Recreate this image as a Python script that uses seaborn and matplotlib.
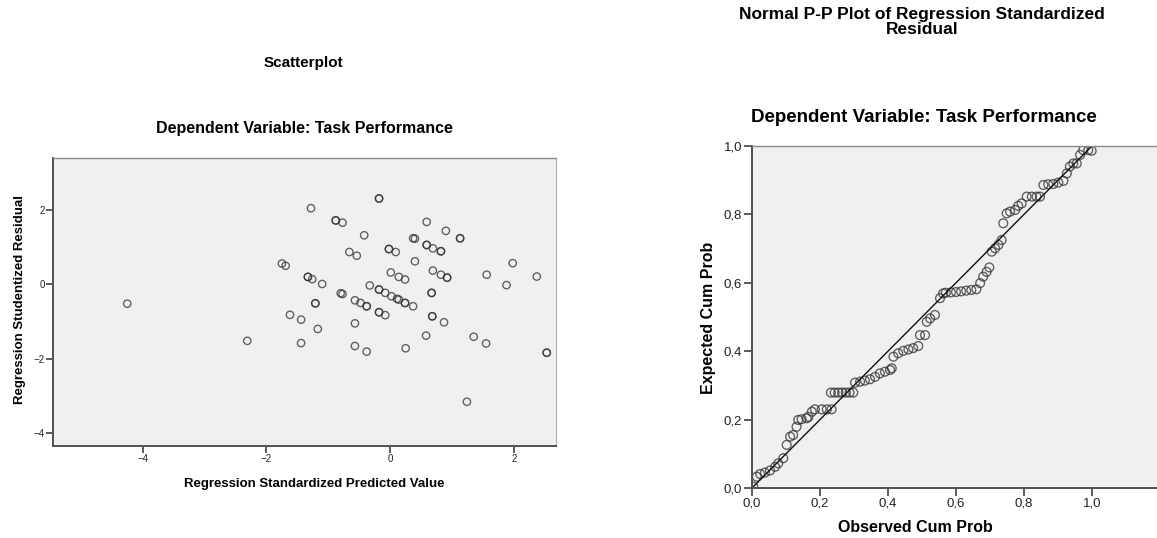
import matplotlib
matplotlib.use('Agg')
import matplotlib.pyplot as plt
from matplotlib.ticker import FuncFormatter
import seaborn as sns
import pandas as pd

# Residuals scatter
pred_value = [-1.28, -0.18, -0.18, -0.88, -0.88, -0.77, -0.42, 0.59, 0.37, 0.40,
              0.59, 0.59, -0.66, -0.54, -0.02, -0.02, 0.09, 0.40, -1.75, -1.69,
              -1.33, -1.33, -1.26, -1.10, 0.01, 0.14, 0.24, -0.33, -0.18, -0.18,
              -0.08, 0.02, 0.11, 0.14, 0.24, 0.24, 0.37, -0.80, -0.77, -0.57,
              -0.48, -0.38, -0.38, -0.18, -0.18, -0.08, -1.21, -1.21, -1.62, -1.44,
              -1.17, -0.57, -1.44, -0.57, -0.38, 0.25, 0.58, 0.90, 1.13, 1.13,
              0.69, 0.82, 0.82, 1.98, 0.69, 0.82, 0.92, 0.92, 1.56, 2.37,
              1.88, 0.67, 0.67, 0.68, 0.68, 0.87, 1.35, 1.55, 2.53, 2.53,
              1.24, -4.25, -2.31]
stud_resid = [2.05, 2.31, 2.31, 1.72, 1.72, 1.66, 1.32, 1.68, 1.24, 1.23,
              1.06, 1.06, 0.87, 0.77, 0.95, 0.95, 0.87, 0.62, 0.56, 0.50,
              0.20, 0.20, 0.14, 0.01, 0.32, 0.20, 0.13, -0.03, -0.14, -0.14,
              -0.23, -0.32, -0.39, -0.41, -0.50, -0.50, -0.59, -0.24, -0.26, -0.43,
              -0.50, -0.59, -0.59, -0.75, -0.75, -0.83, -0.51, -0.51, -0.82, -0.95,
              -1.20, -1.05, -1.58, -1.66, -1.81, -1.72, -1.38, 1.44, 1.24, 1.24,
              0.97, 0.89, 0.89, 0.57, 0.37, 0.26, 0.18, 0.18, 0.26, 0.21,
              -0.02, -0.23, -0.23, -0.86, -0.86, -1.02, -1.41, -1.59, -1.84, -1.84,
              -3.16, -0.52, -1.52]

# Normal P-P plot points
obs_cum = [0.004, 0.014, 0.024, 0.038, 0.053, 0.068, 0.077, 0.092, 0.102, 0.112,
           0.121, 0.131, 0.136, 0.146, 0.161, 0.166, 0.176, 0.185, 0.205, 0.220,
           0.234, 0.232, 0.243, 0.254, 0.265, 0.276, 0.287, 0.298, 0.303, 0.318,
           0.332, 0.347, 0.362, 0.376, 0.391, 0.406, 0.411, 0.416, 0.430, 0.445,
           0.460, 0.474, 0.489, 0.494, 0.509, 0.514, 0.524, 0.538, 0.553, 0.562,
           0.570, 0.585, 0.600, 0.615, 0.630, 0.645, 0.660, 0.671, 0.680, 0.690,
           0.698, 0.705, 0.715, 0.725, 0.734, 0.739, 0.749, 0.759, 0.774, 0.783,
           0.793, 0.808, 0.823, 0.837, 0.847, 0.857, 0.871, 0.886, 0.901, 0.916,
           0.926, 0.935, 0.945, 0.955, 0.965, 0.974, 0.989, 0.999]
exp_cum = [0.004, 0.033, 0.041, 0.045, 0.051, 0.062, 0.072, 0.087, 0.126, 0.150,
           0.155, 0.179, 0.199, 0.201, 0.204, 0.208, 0.223, 0.230, 0.230, 0.230,
           0.230, 0.279, 0.279, 0.279, 0.279, 0.279, 0.279, 0.279, 0.308, 0.311,
           0.314, 0.318, 0.325, 0.335, 0.340, 0.345, 0.350, 0.384, 0.394, 0.401,
           0.405, 0.409, 0.415, 0.447, 0.447, 0.486, 0.496, 0.506, 0.555, 0.569,
           0.571, 0.572, 0.573, 0.575, 0.577, 0.579, 0.581, 0.599, 0.618, 0.632,
           0.645, 0.691, 0.701, 0.711, 0.725, 0.774, 0.803, 0.808, 0.813, 0.825,
           0.832, 0.852, 0.852, 0.852, 0.852, 0.886, 0.888, 0.889, 0.893, 0.898,
           0.920, 0.940, 0.949, 0.949, 0.974, 0.988, 0.988, 0.986]

diag_x = [0.0, 1.0]
diag_y = [0.0, 1.0]

scatter_df = pd.DataFrame({'pred': pred_value, 'resid': stud_resid})
pp_df = pd.DataFrame({'obs': obs_cum, 'exp': exp_cum})

sns.set_theme(style='white')
plt.rcParams['font.family'] = ['Liberation Sans', 'DejaVu Sans']
plt.rcParams['text.color'] = 'black'
plt.rcParams['axes.labelcolor'] = 'black'

W, H = 1157, 538
fig = plt.figure(figsize=(W / 100, H / 100), dpi=100)


def px_axes(l, t, r, b):
    return fig.add_axes([l / W, 1 - b / H, (r - l) / W, (b - t) / H])


def style_axes(ax, lab_size, tick_len):
    ax.set_facecolor('#f0f0f0')
    for s in ['left', 'bottom']:
        ax.spines[s].set_color('#505050')
        ax.spines[s].set_linewidth(1.4)
    ax.spines['top'].set_color('#8a8a8a')
    ax.spines['top'].set_linewidth(1.0)
    ax.tick_params(direction='out', length=tick_len, width=1.2, color='#404040',
                   labelsize=lab_size, labelcolor='#222222', pad=1,
                   bottom=True, left=True)


comma = FuncFormatter(lambda v, p: f'{v:.1f}'.replace('.', ','))

# ---- left: scatterplot
ax1 = px_axes(53, 158, 556, 446)
sns.scatterplot(data=scatter_df, x='pred', y='resid', ax=ax1, marker='o', s=28,
                facecolors='none', edgecolors='#333333', linewidths=1.0, alpha=0.75)
ax1.set_xlim(-5.45, 2.68)
ax1.set_ylim(-4.35, 3.4)
ax1.set_xticks([-4, -2, 0, 2])
ax1.set_yticks([-4, -2, 0, 2])
style_axes(ax1, 7, 5)
ax1.spines['right'].set_color('#b0b0b0')
ax1.spines['right'].set_linewidth(0.8)
ax1.set_xlabel('Regression Standardized Predicted Value', fontsize=9.5,
               fontweight='bold')
ax1.set_ylabel('Regression Studentized Residual', fontsize=9.5, fontweight='bold')
ax1.xaxis.set_label_coords((314 - 53) / 503, -(484 - 446) / 288)
ax1.yaxis.set_label_coords(-(53 - 20) / 503, (446 - 300) / 288)
ax1.xaxis.label.set_va('center')
ax1.yaxis.label.set_va('center')

fig.text(303 / W, 1 - 63 / H, 'Scatterplot', ha='center', va='center',
         fontsize=11, fontweight='bold')
fig.text(304 / W, 1 - 128 / H, 'Dependent Variable: Task Performance',
         ha='center', va='center', fontsize=11.5, fontweight='bold')

# ---- right: normal P-P plot
ax2 = px_axes(752, 146, 1157, 488)
sns.lineplot(x=diag_x, y=diag_y, ax=ax2, color='#111111', linewidth=1.0)
sns.scatterplot(data=pp_df, x='obs', y='exp', ax=ax2, marker='o', s=40,
                facecolors='none', edgecolors='#333333', linewidths=1.0, alpha=0.75)
ax2.set_xlim(0, (1157 - 752) / 340)
ax2.set_ylim(0, 1.0)
ax2.set_xticks([0, 0.2, 0.4, 0.6, 0.8, 1.0])
ax2.set_yticks([0, 0.2, 0.4, 0.6, 0.8, 1.0])
ax2.xaxis.set_major_formatter(comma)
ax2.yaxis.set_major_formatter(comma)
style_axes(ax2, 9.5, 6)
ax2.spines['right'].set_visible(False)
ax2.set_xlabel('Observed Cum Prob', fontsize=11.5, fontweight='bold')
ax2.set_ylabel('Expected Cum Prob', fontsize=11.5, fontweight='bold')
ax2.xaxis.set_label_coords((915 - 752) / 405, -(527 - 488) / 342)
ax2.yaxis.set_label_coords(-(752 - 708) / 405, (488 - 318) / 342)
ax2.xaxis.label.set_va('center')
ax2.yaxis.label.set_va('center')

fig.text(922 / W, 1 - 22 / H, 'Normal P-P Plot of Regression Standardized\nResidual',
         ha='center', va='center', fontsize=12.5, fontweight='bold', linespacing=1.0)
fig.text(924 / W, 1 - 118 / H, 'Dependent Variable: Task Performance',
         ha='center', va='center', fontsize=13.5, fontweight='bold')

fig.savefig('out.png', dpi=100)
